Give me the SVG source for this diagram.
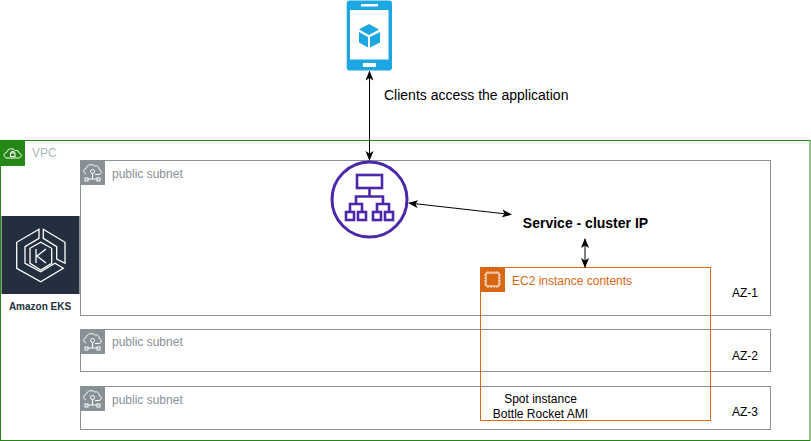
<svg xmlns="http://www.w3.org/2000/svg" width="811" height="441" viewBox="0 0 811 441">
<style>
text{font-family:"Liberation Sans",Arial,sans-serif;font-size:12px;fill:#000}
.sub{fill:none;stroke:#879196;stroke-width:1}
.ic{fill:none;stroke:#fff;stroke-width:1}
.eks{fill:none;stroke:#fff;stroke-width:1.300}
.conn{fill:none;stroke:#000;stroke-width:1;marker-start:url(#a);marker-end:url(#a)}
.p{fill:none;stroke:#4d27aa;stroke-width:2.600}
.st{fill:#879196}
</style>
<defs>
<marker id="a" viewBox="0 0 10 10" refX="9" refY="5" markerWidth="10" markerHeight="10" orient="auto-start-reverse" markerUnits="userSpaceOnUse"><path d="M0 1 L10 5 L0 9 L2.500 5Z" fill="#000"/></marker>
<g id="subicon">
<rect width="25" height="25" fill="#879196"/>
<path class="ic" d="M6 14 C3 13 3 9 6 8.500 C7 4.500 12 3.500 14.500 6 C17 5 19.500 7 19 9.500 C22 10 22 14 19 14.500 L15 14.500"/>
<circle class="ic" cx="12.500" cy="11.500" r="2"/>
<path class="ic" d="M12.500 13.500 V19 M7.500 19 H17.500"/>
<rect class="ic" x="5" y="18" width="3" height="3"/><rect class="ic" x="17" y="18" width="3" height="3"/>
</g>
</defs>
<g id="vpc">
<rect x="0.500" y="140.500" width="809.500" height="300" fill="none" stroke="#248814"/>
<rect x="0" y="141" width="25" height="25" fill="#248814"/>
<path class="ic" d="M7 158 C3.500 158 3 153 6.500 152.500 C7.500 148.500 13 147.500 15 150.500 C18 150 19.500 152 19 153 C22 153.500 22 158 18.500 158 Z"/>
<rect class="ic" x="10.500" y="153" width="4.500" height="3.500"/>
<path class="ic" d="M11.500 153 V151.500 H14 V153"/>
<text x="32" y="157" style="fill:#aab7b8">VPC</text>
</g>
<g id="subnet-1">
<rect class="sub" x="80.500" y="160.500" width="690" height="155"/>
<use href="#subicon" x="80" y="160"/>
<text class="st" x="112" y="178">public subnet</text>
<text x="732" y="297">AZ-1</text>
</g>
<g id="subnet-2">
<rect class="sub" x="80.500" y="329.500" width="690" height="42"/>
<use href="#subicon" x="80" y="329"/>
<text class="st" x="112" y="346">public subnet</text>
<text x="732" y="360">AZ-2</text>
</g>
<g id="subnet-3">
<rect class="sub" x="80.500" y="386.500" width="690" height="43"/>
<use href="#subicon" x="80" y="386"/>
<text class="st" x="112" y="404">public subnet</text>
<text x="732" y="416">AZ-3</text>
</g>
<g id="eks">
<rect x="1.500" y="216" width="78" height="78" fill="#232f3e"/>
<path class="eks" d="M39 229.300 L16.700 242.300 V268.300 L40.700 281.700 L63.300 268.300 L55 263.300 L40.700 271.700 L25 263.300 V246.700 L39 238.300 Z"/>
<path class="eks" d="M43.300 229.300 L65 242.300 V263.300 L56.700 259 V246.700 L43.300 238.300 Z"/>
<path class="eks" d="M40.700 242.300 L30 248.300 V263.300 L40.700 270 L51.700 263.300 V248.300 Z"/>
<path class="eks" d="M36 249 V263 M46 249 L37 256 L46 263"/>
<text x="40" y="310" text-anchor="middle" style="font-size:10px;font-weight:bold;fill:#232f3e">Amazon EKS</text>
</g>
<g id="client">
<rect x="346.700" y="0.500" width="45.300" height="70" rx="3" fill="#1ca7e3"/>
<rect x="350" y="10" width="38.500" height="49.500" fill="#fff"/>
<rect x="361" y="4" width="17" height="2.500" fill="#fff"/>
<rect x="363" y="63" width="13" height="4" fill="#fff"/>
<path d="M369 24 L379 29.500 L369 35 L359 29.500Z M359 32 L368 37 V47.500 L359 42.500Z M380 32 V42.500 L370 47.500 V37Z" fill="#1ca7e3"/>
</g>
<g id="load-balancer">
<circle cx="369.500" cy="199.500" r="37.500" fill="#fff" stroke="#4d27aa" stroke-width="3"/>
<rect class="p" x="357" y="175" width="25" height="13"/>
<path class="p" d="M369.500 188 V196.500 M356 204 V196.500 H383 V204 M350 211 V204 H362 V211 M377 211 V204 H389 V211"/>
<rect class="p" x="346" y="212" width="8" height="8"/>
<rect class="p" x="358" y="212" width="8" height="8"/>
<rect class="p" x="373" y="212" width="8" height="8"/>
<rect class="p" x="385" y="212" width="8" height="8"/>
</g>
<g id="service">
<text x="585.500" y="228" text-anchor="middle" style="font-size:14px;font-weight:bold">Service - cluster IP</text>
</g>
<g id="ec2">
<rect x="480.500" y="267.500" width="230" height="153" fill="none" stroke="#d86613"/>
<rect x="480" y="267" width="25" height="25" fill="#d86613"/>
<rect x="486" y="273" width="13" height="13" fill="none" stroke="#fff"/>
<path d="M488 271 V273 M491 271 V273 M494 271 V273 M497 271 V273 M488 286 V288 M491 286 V288 M494 286 V288 M497 286 V288 M484 275 H486 M484 278 H486 M484 281 H486 M484 284 H486 M499 275 H501 M499 278 H501 M499 281 H501 M499 284 H501" fill="none" stroke="#fff" stroke-width="0.800"/>
<text x="512" y="285" style="fill:#d86613">EC2 instance contents</text>
<text x="540.500" y="403" text-anchor="middle">Spot instance</text>
<text x="540.500" y="418" text-anchor="middle">Bottle Rocket AMI</text>
</g>
<g id="connectors">
<path class="conn" d="M369.500 71.500 V160"/>
<path class="conn" d="M409 203 L511 214.500"/>
<path class="conn" d="M585 239 V267"/>
</g>
<text x="384" y="100" style="font-size:14px">Clients access the application</text>
</svg>
